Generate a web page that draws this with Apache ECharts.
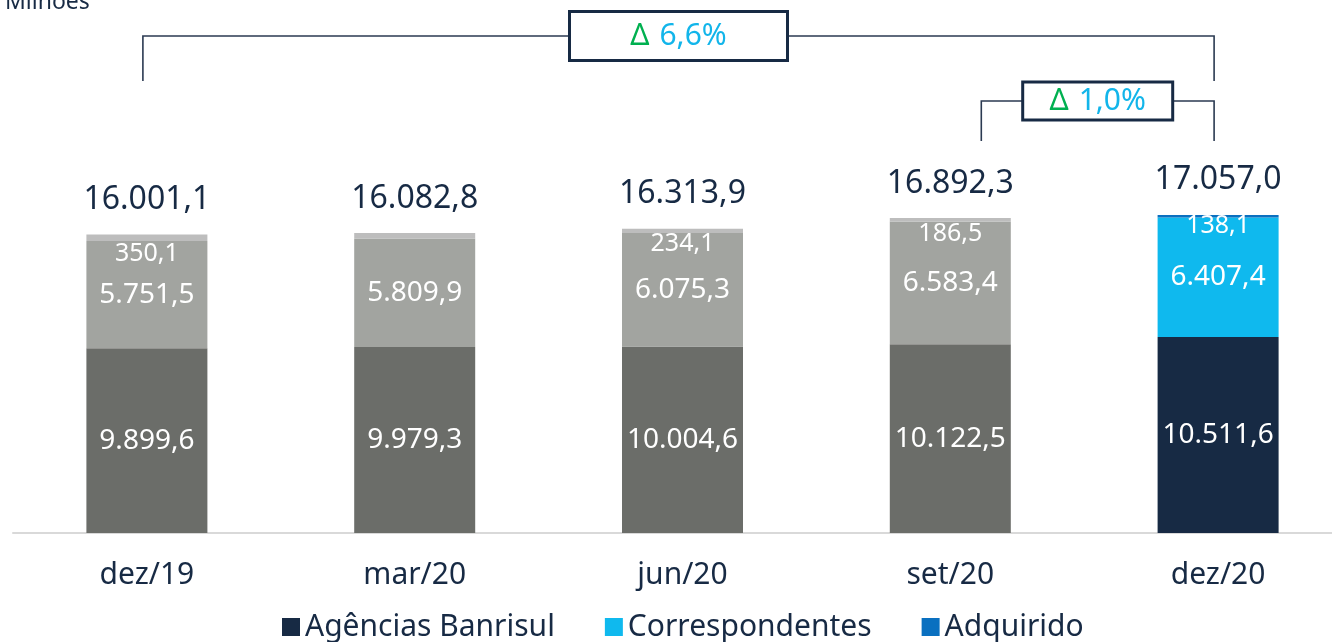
<!DOCTYPE html>
<html>
<head>
<meta charset="utf-8">
<script src="https://cdn.jsdelivr.net/npm/echarts@6/dist/echarts.min.js"></script>
<style>
  html, body { margin: 0; padding: 0; background: #ffffff; overflow: hidden; width: 1332px; height: 642px; }
  #chart { width: 1352px; height: 642px; }
</style>
</head>
<body>
<div id="chart"></div>
<script>
// Quarterly figures (R$ milhões)
const categories = ['dez/19', 'mar/20', 'jun/20', 'set/20', 'dez/20'];
const agencias = [9899.6, 9979.3, 10004.6, 10122.5, 10511.6];
const correspondentes = [5751.5, 5809.9, 6075.3, 6583.4, 6407.4];
const adquirido = [350.1, 293.6, 234.1, 186.5, 138.1];
const totals = [16001.1, 16082.8, 16313.9, 16892.3, 17057.0];
const seriesNames = ['Agências Banrisul', 'Correspondentes', 'Adquirido'];
const deltaTotal = '6,6%';
const deltaQuarter = '1,0%';

const FONT = '"Noto Sans", "Open Sans", sans-serif';
const NAVY = '#172a44';
const CYAN = '#0fb9ee';
const BLUE = '#0a70c0';
const GRAY_DARK = '#6b6d69';
const GRAY_MID = '#a2a4a0';
const GRAY_LIGHT = '#bdbdbd';

const fmt = v => v.toLocaleString('de-DE', { minimumFractionDigits: 1, maximumFractionDigits: 1 });
const last = categories.length - 1;

function items(values, gray, topOffsets) {
  return values.map((v, i) => {
    const item = { value: v, itemStyle: { color: i === last ? undefined : gray } };
    if (topOffsets) {
      const off = topOffsets[i];
      item.label = off === null ? { show: false } : { offset: [0, off] };
    }
    return item;
  });
}

const chart = echarts.init(document.getElementById('chart'));

const option = {
  animation: false,
  textStyle: { fontFamily: FONT },
  grid: { left: 13, right: 0, top: 160, bottom: 109, containLabel: false },
  legend: {
    data: seriesNames,
    bottom: -5,
    left: 277,
    itemWidth: 18,
    itemHeight: 18,
    itemGap: 50,
    icon: 'rect',
    textStyle: { fontFamily: FONT, fontSize: 30, color: NAVY }
  },
  xAxis: {
    type: 'category',
    data: categories,
    axisLine: { lineStyle: { color: '#d9d9d9', width: 2 } },
    axisTick: { show: false },
    axisLabel: { color: NAVY, fontSize: 30, margin: 27, fontFamily: FONT }
  },
  yAxis: {
    type: 'value',
    min: 0,
    max: 20000,
    show: false,
    splitLine: { show: false }
  },
  series: [
    {
      name: seriesNames[0],
      type: 'bar',
      stack: 'total',
      barWidth: 121,
      color: NAVY,
      data: items(agencias, GRAY_DARK),
      label: { show: true, position: 'inside', color: '#ffffff', fontSize: 28, fontFamily: FONT, formatter: p => fmt(p.value) }
    },
    {
      name: seriesNames[1],
      type: 'bar',
      stack: 'total',
      barWidth: 121,
      color: CYAN,
      data: items(correspondentes, GRAY_MID),
      label: { show: true, position: 'inside', color: '#ffffff', fontSize: 28, fontFamily: FONT, formatter: p => fmt(p.value) }
    },
    {
      name: seriesNames[2],
      type: 'bar',
      stack: 'total',
      barWidth: 121,
      color: BLUE,
      data: items(adquirido, GRAY_LIGHT, [0, null, -4, -4, -9]),
      label: { show: true, position: 'insideTop', distance: 7, color: '#ffffff', fontSize: 25, fontFamily: FONT, formatter: p => fmt(p.value) }
    },
    {
      name: 'Total',
      type: 'scatter',
      data: totals,
      symbolSize: 1,
      itemStyle: { color: 'rgba(0,0,0,0)', opacity: 1 },
      silent: true,
      label: { show: true, position: 'top', distance: 18, color: NAVY, fontSize: 32, fontFamily: FONT, formatter: p => fmt(p.value) }
    }
  ]
};

chart.setOption(option);

// Variation brackets drawn above the bars, anchored on the category centres
function cx(i) { return chart.convertToPixel({ xAxisIndex: 0 }, categories[i]); }
const LINE = { stroke: '#2b3a52', lineWidth: 1.6 };

function bracket(x1, x2, yTop, yBottom, boxW, boxH, text) {
  const mid = (x1 + x2) / 2;
  return [
    { type: 'polyline', shape: { points: [[x1, yBottom], [x1, yTop], [x2, yTop], [x2, yBottom]] }, style: Object.assign({ fill: null }, LINE), z: 10 },
    { type: 'rect', shape: { x: mid - boxW / 2, y: yTop - boxH / 2, width: boxW, height: boxH }, style: { fill: '#ffffff', stroke: NAVY, lineWidth: 3 }, z: 11 },
    {
      type: 'text', x: mid, y: yTop, z: 12,
      style: {
        text: '{d|Δ}{v|' + text + '}',
        align: 'center', verticalAlign: 'middle',
        rich: {
          d: { fill: '#00b050', fontSize: 30, fontFamily: FONT, padding: [0, 10, 0, 0] },
          v: { fill: '#12b5ea', fontSize: 30, fontFamily: FONT }
        }
      }
    }
  ];
}

const graphics = []
  .concat(bracket(cx(0) - 4, cx(last) - 4, 36, 81, 218, 49, deltaTotal))
  .concat(bracket(cx(last - 1) + 31, cx(last) - 4, 101, 141, 150, 38, deltaQuarter));

graphics.push({
  type: 'text', left: 5, top: -9,
  style: { text: 'Milhões', fill: NAVY, fontSize: 23, fontFamily: FONT }
});

chart.setOption({ graphic: graphics });
</script>
</body>
</html>
